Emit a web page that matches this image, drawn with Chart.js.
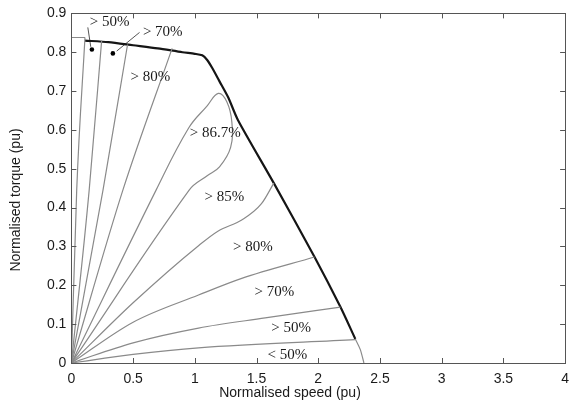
<!DOCTYPE html>
<html>
<head>
<meta charset="utf-8">
<script src="https://cdn.jsdelivr.net/npm/chart.js@4/dist/chart.umd.min.js"></script>
<style>
html,body{margin:0;padding:0;background:#fff;}
canvas{display:block;}
</style>
</head>
<body>
<canvas id="c" width="577" height="415"></canvas>
<script>
// ---- data (normalised speed / torque, pu) ----
const xTickLabels = ['0','0.5','1','1.5','2','2.5','3','3.5','4'];
const yTickLabels = ['0','0.1','0.2','0.3','0.4','0.5','0.6','0.7','0.8','0.9'];

// maximum torque envelope
const envelopeSpeed  = [0.11, 0.30, 0.50, 0.70, 0.90, 1.00, 1.06, 1.10, 1.14, 1.20, 1.27, 1.35, 1.64, 1.97, 2.18, 2.30];
const envelopeTorque = [0.830,0.826,0.818,0.810,0.800,0.796,0.792,0.780,0.760,0.725,0.684,0.625,0.463,0.273,0.144,0.062];
const envelopeTailSpeed  = [2.30, 2.34, 2.37];
const envelopeTailTorque = [0.062,0.035,0.0];
const topCapSpeed  = [0, 0.11];
const topCapTorque = [0.838, 0.838];

// efficiency contour boundaries (all start at origin)
const c50aSpeed  = [0, 0.043, 0.11];   const c50aTorque = [0, 0.445, 0.838];
const c70aSpeed  = [0, 0.144, 0.245];  const c70aTorque = [0, 0.445, 0.830];
const c80aSpeed  = [0, 0.256, 0.455];  const c80aTorque = [0, 0.445, 0.820];
const c85aSpeed  = [0, 0.417, 0.816];  const c85aTorque = [0, 0.445, 0.810];
const c867Speed  = [0, 0.686, 0.95, 1.10, 1.19, 1.26, 1.30, 1.29, 1.20, 1.10, 0.954, 0];
const c867Torque = [0, 0.445, 0.605,0.662,0.694,0.672,0.620,0.555,0.505,0.482,0.445, 0];
const c85bSpeed  = [0, 0.50, 1.03, 1.19, 1.38, 1.54, 1.64];
const c85bTorque = [0, 0.155,0.302,0.340,0.368,0.410,0.463];
const c80bSpeed  = [0, 0.50, 1.03, 1.38, 1.97];
const c80bTorque = [0, 0.105,0.175,0.218,0.273];
const c70bSpeed  = [0, 0.50, 1.03, 1.57, 2.18];
const c70bTorque = [0, 0.052,0.090,0.116,0.144];
const c50bSpeed  = [0, 0.50, 1.03, 2.30];
const c50bTorque = [0, 0.022,0.039,0.060];

// marker dots and leader lines
const dotSpeed  = [0.166, 0.336];
const dotTorque = [0.807, 0.797];
const leader50Speed  = [0.133, 0.157];  const leader50Torque = [0.864, 0.814];
const leader70Speed  = [0.552, 0.367];  const leader70Torque = [0.851, 0.803];

// region labels
const labelTexts  = ['> 50%','> 70%','> 80%','> 86.7%','> 85%','> 80%','> 70%','> 50%','< 50%'];
const labelSpeed  = [0.31, 0.74, 0.64, 1.165, 1.24, 1.47, 1.645, 1.78, 1.75];
const labelTorque = [0.877,0.853,0.735,0.591, 0.427,0.298,0.183, 0.090,0.020];

// ---- build ----
const zip = (xs, ys) => xs.map((x, i) => ({x: x, y: ys[i]}));
const GRAY = '#8a8a8a';
function radial(xs, ys) {
  return {data: zip(xs, ys), showLine: true, borderColor: GRAY, borderWidth: 1.2,
          pointRadius: 0, cubicInterpolationMode: 'monotone', fill: false};
}
function curve(xs, ys, tension) {
  return {data: zip(xs, ys), showLine: true, borderColor: GRAY, borderWidth: 1.2,
          pointRadius: 0, tension: tension, fill: false};
}
const datasets = [
  radial(c50aSpeed, c50aTorque),
  radial(c70aSpeed, c70aTorque),
  radial(c80aSpeed, c80aTorque),
  radial(c85aSpeed, c85aTorque),
  curve(c867Speed, c867Torque, 0.4),
  radial(c85bSpeed, c85bTorque),
  radial(c80bSpeed, c80bTorque),
  radial(c70bSpeed, c70bTorque),
  radial(c50bSpeed, c50bTorque),
  curve(topCapSpeed, topCapTorque, 0),
  curve(envelopeTailSpeed, envelopeTailTorque, 0.3),
  {data: zip(envelopeSpeed, envelopeTorque), showLine: true, borderColor: '#151515', borderWidth: 2.2,
   pointRadius: 0, tension: 0.25, fill: false},
  {data: zip(leader50Speed, leader50Torque), showLine: true, borderColor: '#555', borderWidth: 1,
   pointRadius: 0, tension: 0},
  {data: zip(leader70Speed, leader70Torque), showLine: true, borderColor: '#555', borderWidth: 1,
   pointRadius: 0, tension: 0},
  {data: zip(dotSpeed, dotTorque), showLine: false, pointRadius: 2.3, pointBackgroundColor: '#000',
   pointBorderWidth: 0}
];

const frame = {
  id: 'frame',
  afterDatasetsDraw(chart) {
    const ctx = chart.ctx, a = chart.chartArea;
    const xs = chart.scales.x, ys = chart.scales.y;
    ctx.save();
    // region labels
    ctx.fillStyle = '#1a1a1a';
    ctx.font = '15px "Liberation Serif", "Times New Roman", serif';
    ctx.textAlign = 'center';
    ctx.textBaseline = 'middle';
    labelTexts.forEach((t, i) => {
      ctx.fillText(t, xs.getPixelForValue(labelSpeed[i]), ys.getPixelForValue(labelTorque[i]));
    });
    // box
    ctx.strokeStyle = '#555';
    ctx.lineWidth = 1;
    ctx.strokeRect(Math.round(a.left) + 0.5, Math.round(a.top) + 0.5,
                   Math.round(a.right - a.left), Math.round(a.bottom - a.top));
    // inward ticks on all sides
    ctx.beginPath();
    xs.ticks.forEach(t => {
      const p = Math.round(xs.getPixelForValue(t.value)) + 0.5;
      ctx.moveTo(p, a.bottom); ctx.lineTo(p, a.bottom - 5);
      ctx.moveTo(p, a.top); ctx.lineTo(p, a.top + 5);
    });
    ys.ticks.forEach(t => {
      const p = Math.round(ys.getPixelForValue(t.value)) + 0.5;
      ctx.moveTo(a.left, p); ctx.lineTo(a.left + 5, p);
      ctx.moveTo(a.right, p); ctx.lineTo(a.right - 5, p);
    });
    ctx.stroke();
    // axis titles
    ctx.fillStyle = '#1a1a1a';
    ctx.font = '14px "Liberation Sans", Arial, sans-serif';
    ctx.textAlign = 'center';
    ctx.textBaseline = 'middle';
    ctx.fillText('Normalised speed (pu)', 290, 393);
    ctx.translate(16, 200);
    ctx.rotate(-Math.PI / 2);
    ctx.fillText('Normalised torque (pu)', 0, 0);
    ctx.restore();
  }
};

const tickFont = {family: '"Liberation Sans", Arial, sans-serif', size: 14};
new Chart(document.getElementById('c'), {
  type: 'scatter',
  data: {datasets: datasets},
  options: {
    responsive: false,
    animation: false,
    devicePixelRatio: 1,
    layout: {padding: {top: 13, right: 8, left: 0, bottom: 0}},
    plugins: {legend: {display: false}, tooltip: {enabled: false}},
    scales: {
      x: {
        type: 'linear', min: 0, max: 4,
        ticks: {stepSize: 0.5, color: '#1a1a1a', font: tickFont, padding: 8, maxRotation: 0,
                callback: (v, i) => xTickLabels[i]},
        grid: {display: false, drawTicks: false},
        border: {display: true, color: '#555'},
        afterFit: s => { s.height = 52; }
      },
      y: {
        type: 'linear', min: 0, max: 0.9,
        ticks: {stepSize: 0.1, color: '#1a1a1a', font: tickFont, padding: 5,
                callback: (v, i) => yTickLabels[i]},
        grid: {display: false, drawTicks: false},
        border: {display: true, color: '#555'},
        afterFit: s => { s.width = 71.4; }
      }
    }
  },
  plugins: [frame]
});
</script>
</body>
</html>
